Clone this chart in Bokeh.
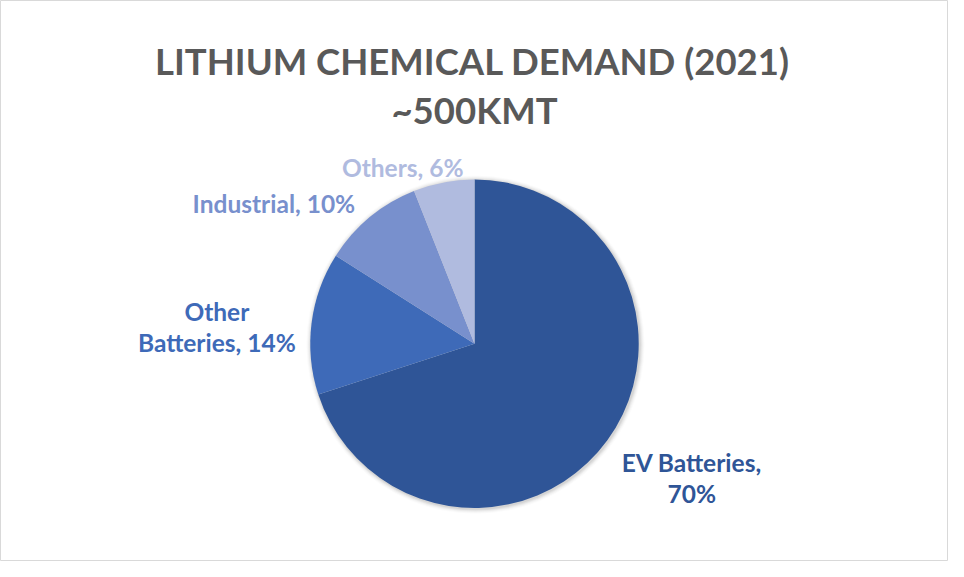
import math
from bokeh.plotting import figure
from bokeh.models import ColumnDataSource, Range1d
from bokeh.core.properties import value
from bokeh.embed import file_html
from bokeh.resources import INLINE

# ---- data ----
title_lines = ["LITHIUM CHEMICAL DEMAND (2021)", "~500KMT"]
categories = ["EV Batteries", "Other Batteries", "Industrial", "Others"]
shares = [70, 14, 10, 6]
colors = ["#2F5597", "#3E6AB8", "#7890CD", "#B0BBDF"]

# ---- layout: data space mirrors a 964x577 canvas, drawn into 948x561 ----
RW, RH = 964, 577
W, H = 948, 561
cx, cy, r = 482, 224, 167
FONT = "Lato"

p = figure(width=W, height=H, output_backend="svg", toolbar_location=None,
           x_range=Range1d(0, RW), y_range=Range1d(0, RH), min_border=0)
p.axis.visible = False
p.grid.visible = False
p.outline_line_color = "#D9D9D9"
p.outline_line_width = 1
p.background_fill_color = "white"
p.border_fill_color = "white"

# soft shadow
for i, a in enumerate([0.05, 0.045, 0.035, 0.025, 0.015]):
    p.circle(x=[cx + 1], y=[cy - 1], radius=r + 1 + i, fill_color="black",
             fill_alpha=a, line_color=None)

# wedges: start at 12 o'clock, clockwise
total = float(sum(shares))
starts, ends = [], []
acc = 0.0
for s in shares:
    a0 = math.pi / 2 - 2 * math.pi * acc / total
    acc += s
    a1 = math.pi / 2 - 2 * math.pi * acc / total
    starts.append(a0)
    ends.append(a1)

src = ColumnDataSource(dict(x=[cx] * len(shares), y=[cy] * len(shares),
                            start=starts, end=ends, color=colors))
p.wedge(x="x", y="y", radius=r, start_angle="start", end_angle="end",
        direction="clock", fill_color="color", line_color=None, source=src)

# title
p.text(x=[480, 482], y=[RH - 62, RH - 113], text=title_lines,
       text_font=value(FONT), text_font_style="bold", text_font_size="36.5px",
       text_color="#595959", text_align="center", text_baseline="alphabetic")

# data labels
label_lines = [
    [f"{categories[0]},", f"{shares[0]}%"],
    ["Other", f"Batteries, {shares[1]}%"],
    [f"{categories[2]}, {shares[2]}%"],
    [f"{categories[3]}, {shares[3]}%"],
]
label_pos = [
    (703, [RH - 475, RH - 507]),
    (220, [RH - 320, RH - 352]),
    (278, [RH - 209]),
    (409, [RH - 172]),
]
for lines, (lx, ys), col in zip(label_lines, label_pos, colors):
    p.text(x=[lx] * len(lines), y=ys, text=lines, text_font=value(FONT),
           text_font_style="bold", text_font_size="24.5px", text_color=col,
           text_align="center", text_baseline="alphabetic")

open("out.html", "w").write(file_html(p, INLINE))
